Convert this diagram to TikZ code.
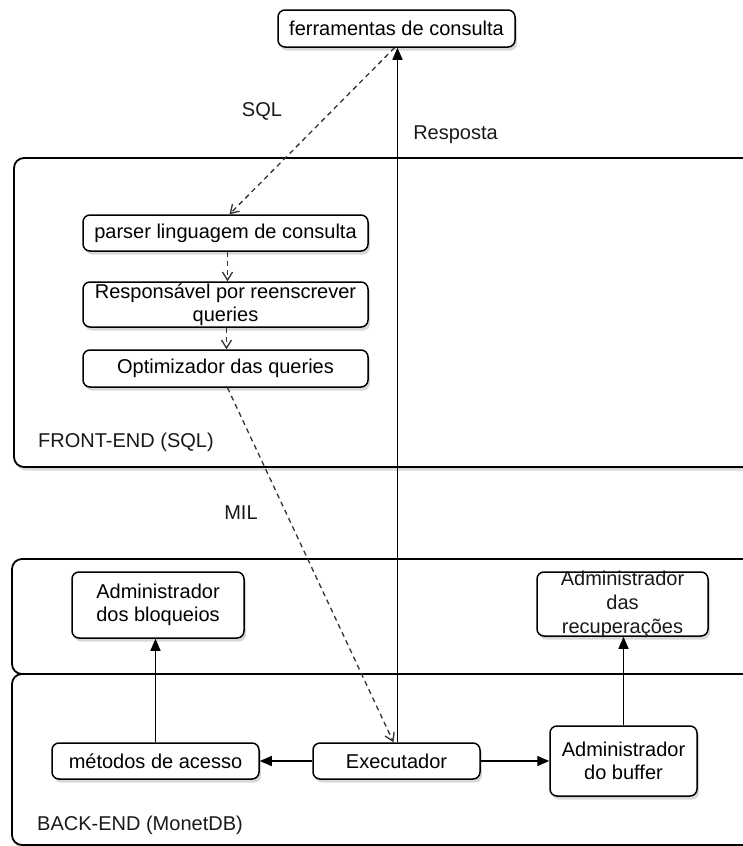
\documentclass[tikz,border=0pt]{standalone}
\usepackage{fontspec}
\setmainfont{Liberation Sans}
\usetikzlibrary{arrows.meta,shadows}
\begin{document}
\begin{tikzpicture}[x=1pt,y=-1pt,
  font=\fontsize{20}{23.5}\selectfont,
  softshadow/.style={drop shadow={opacity=0.3, shadow xshift=2pt, shadow yshift=-3.5pt}},
  box/.style={draw, rounded corners=7pt, fill=white, line width=1.5pt,
    align=center, inner sep=0pt, softshadow},
  region/.style={draw, rounded corners=10pt, fill=white, line width=1.8pt, softshadow},
  caption/.style={inner sep=0pt, text=black!90},
  flow/.style={-{Triangle[length=12pt,width=10pt]}, line width=1.4pt},
  msg/.style={dash pattern=on 5pt off 4pt, -{Straight Barb[length=8pt,width=10pt]},
    line width=1.3pt, draw=black!80}
]
\useasboundingbox (0,0) rectangle (743,846);
\clip (0,0) rectangle (743,846);

% layers
\draw[region] (14,158) rectangle (780,467);
\draw[region] (12,559) rectangle (780,674);
\draw[region] (12,674) rectangle (780,845);

\node[caption, anchor=west] (fe) at (38,442) {FRONT-END (SQL)};
\node[caption, anchor=west] (be) at (37,825) {BACK-END (MonetDB)};

% components
\node[box, minimum width=237, minimum height=37] (ferr) at (396.5,28.5) {ferramentas de consulta};

\node[box, minimum width=285, minimum height=36] (parser) at (225.5,233) {parser linguagem de consulta};
\node[box, minimum width=285, minimum height=45] (resp) at (225.5,304.5) {Responsável por reenscrever\\queries};
\node[box, minimum width=285, minimum height=37] (optim) at (225.5,368.5) {Optimizador das queries};

\node[box, minimum width=172, minimum height=66] (bloq) at (158,605) {Administrador\\dos bloqueios};
\node[box, minimum width=171, minimum height=64] (recup) at (622.5,604) {};
\node[caption, align=center, font=\fontsize{20}{24}\selectfont] (recuptext) at (622.5,604) {Administrador\\das\\recuperações};

\node[box, minimum width=207, minimum height=36] (metodos) at (155.5,761) {métodos de acesso};
\node[box, minimum width=167, minimum height=36] (exec) at (396.5,761) {Executador};
\node[box, minimum width=147, minimum height=70] (buffer) at (623.5,761) {Administrador\\do buffer};

% messages between tiers
\draw[msg] ([xshift=-2pt]ferr.south) -- ([xshift=4pt]parser.north);
\draw[msg] ([xshift=2pt]parser.south) -- ([xshift=2pt]resp.north);
\draw[msg] ([xshift=1pt]resp.south) -- ([xshift=1pt]optim.north);
\draw[msg] ([xshift=2pt]optim.south) -- ([xshift=-3pt]exec.north);

\draw[flow] ([xshift=1pt]exec.north) -- ([xshift=1pt]exec.north |- ferr.south);

\draw[flow] (exec.west) -- (metodos.east);
\draw[flow] (exec.east) -- (buffer.west);
\draw[flow] (metodos.north) -- (metodos.north |- bloq.south);
\draw[flow] (buffer.north) -- (buffer.north |- recup.south);

% connector labels
\node[caption] (sql) at (262,111) {SQL};
\node[caption] (resposta) at (455.5,135) {Resposta};
\node[caption] (mil) at (241,513) {MIL};
\end{tikzpicture}
\end{document}
